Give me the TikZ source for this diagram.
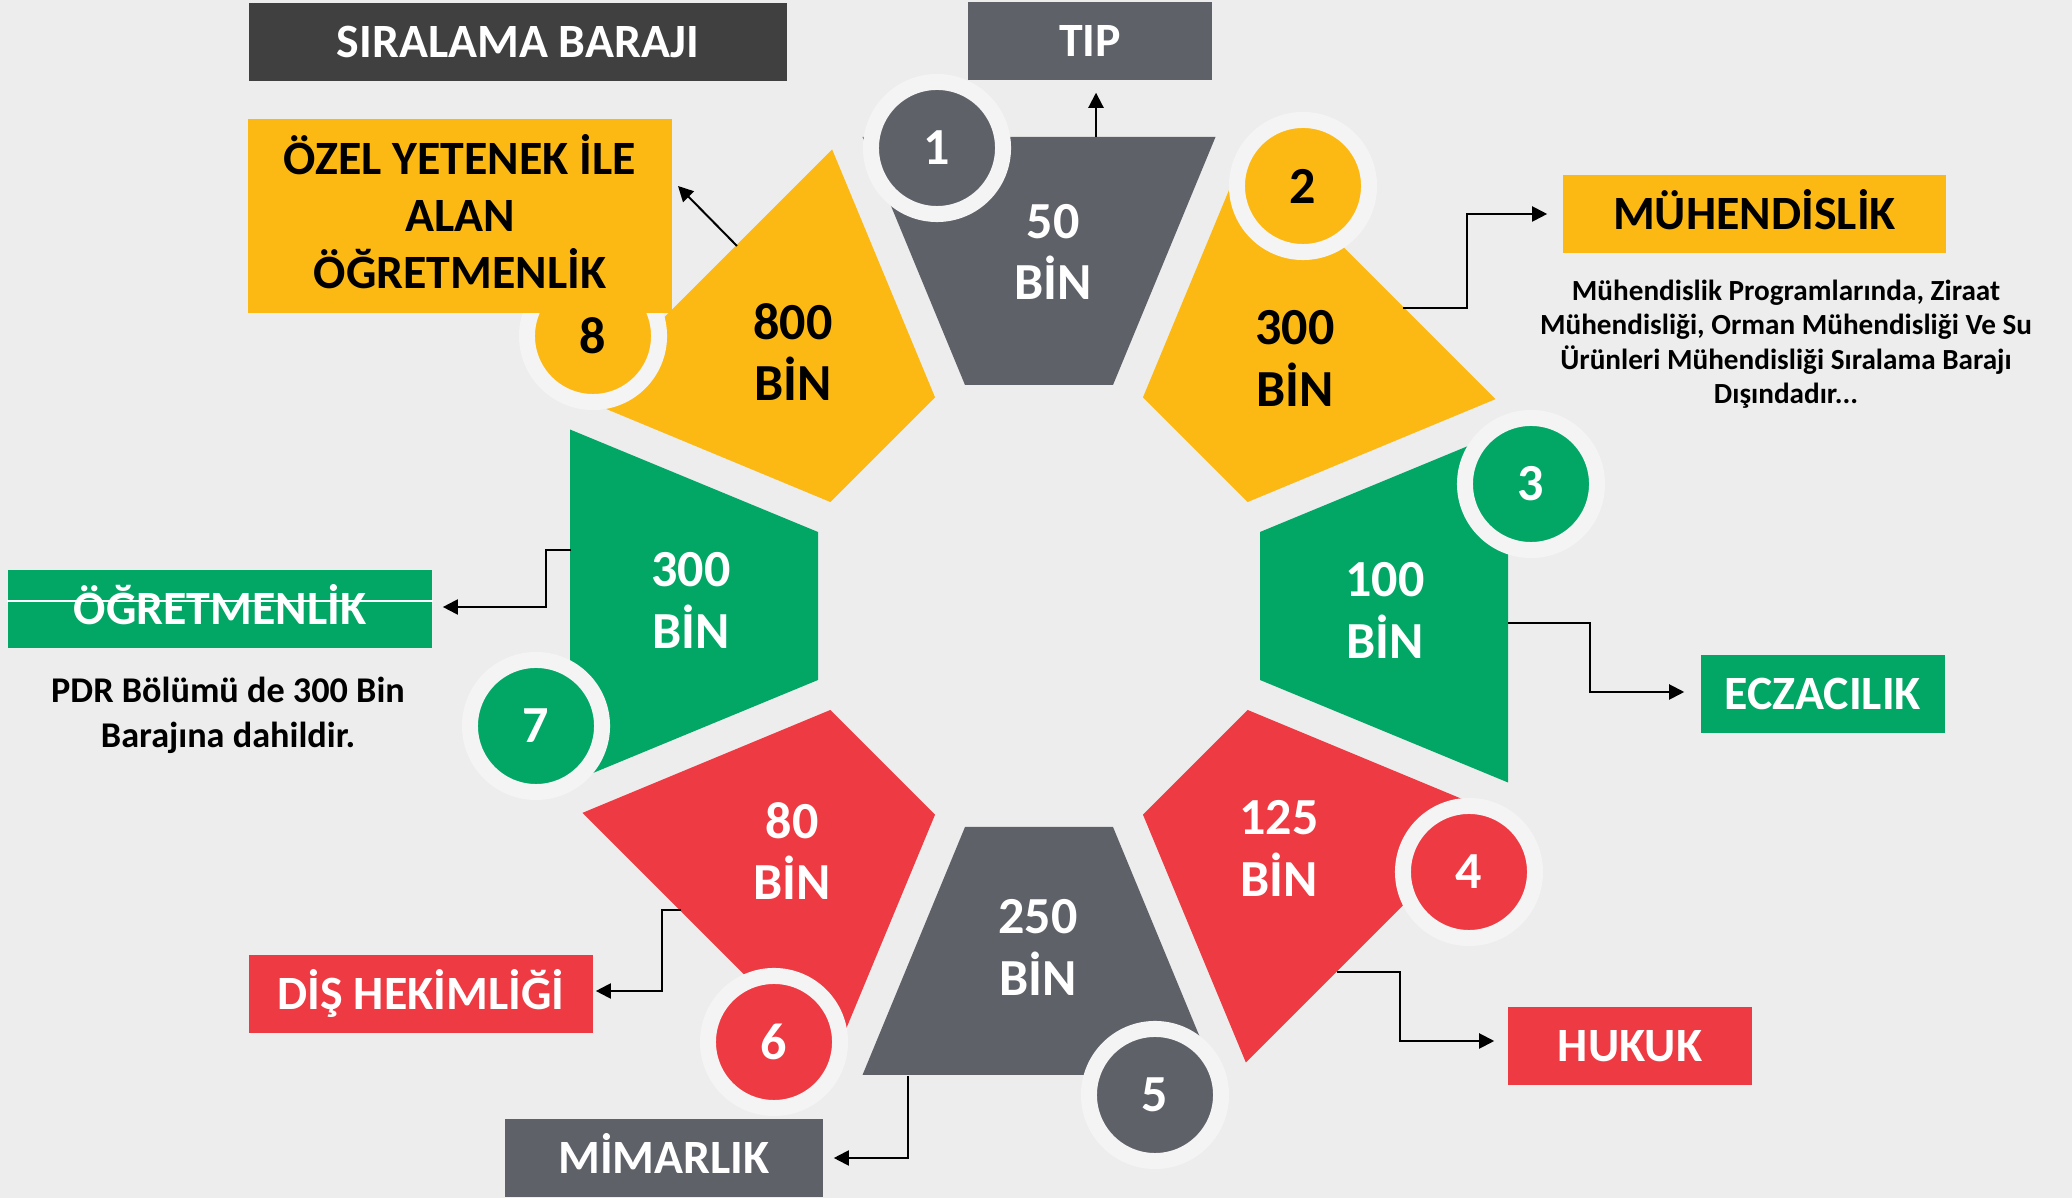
\documentclass[tikz,border=0pt]{standalone}
\usepackage{fontspec}
\setmainfont{Carlito}
\usetikzlibrary{arrows.meta}
\definecolor{bg}{HTML}{EDEDED}
\definecolor{ring}{HTML}{F4F4F4}
\definecolor{cgray}{HTML}{5F6168}
\definecolor{cyel}{HTML}{FDB913}
\definecolor{cgrn}{HTML}{02A766}
\definecolor{cred}{HTML}{EE3A42}
\definecolor{ctitle}{HTML}{404040}
\begin{document}
\begin{tikzpicture}[x=0.01cm,y=-0.01cm,
  shapetext/.style={font=\bfseries\fontsize{14.8}{17.6}\selectfont, align=center, text=#1, inner sep=0pt},
  numcirc/.style={circle, fill=#1, draw=ring, line width=0.16cm, minimum size=1.32cm, inner sep=0pt, font=\bfseries\fontsize{14.8}{17.6}\selectfont},
  labelbox/.style={fill=#1, inner sep=0pt, font=\bfseries\fontsize{13.6}{16.2}\selectfont, align=center},
  onebox/.style={labelbox=#1, minimum height=0.78cm, text height=8.7pt, text depth=0pt},
  arr/.style={-{Triangle[length=4.3pt,width=4.3pt]}, line width=0.57pt, black},
  note/.style 2 args={font=\bfseries\fontsize{#1}{#2}\selectfont, align=center, text=black}
]
\useasboundingbox (0,0) rectangle (2072,1198);
\fill[bg] (0,0) rectangle (2072,1198);

% wedges
\foreach \k/\col in {0/cgray,1/cyel,2/cgrn,3/cred,4/cgray,5/cred,6/cgrn,7/cyel}{
  \fill[\col, shift={(1039,606)}, rotate=-45*\k]
    (-74,-221) -- (74,-221) -- (176.5,-469) -- (-176.5,-469) -- cycle;
}

% values
\node[shapetext=white] (t1) at (1053,252) {50\\BİN};
\node[shapetext=black] (t2) at (1295,358) {300\\BİN};
\node[shapetext=white] (t3) at (1385,610) {100\\BİN};
\node[shapetext=white] (t4) at (1279,848) {125\\BİN};
\node[shapetext=white] (t5) at (1038,947) {250\\BİN};
\node[shapetext=white] (t6) at (792,851) {80\\BİN};
\node[shapetext=white] (t7) at (691,600) {300\\BİN};
\node[shapetext=black] (t8) at (793,352) {800\\BİN};

% number circles
\node[numcirc=cgray, text=white] (n1) at (937,148) {1};
\node[numcirc=cyel, text=black] (n2) at (1303,186) {2};
\node[numcirc=cgrn, text=white] (n3) at (1531,484) {3};
\node[numcirc=cred, text=white] (n4) at (1469,872) {4};
\node[numcirc=cgray, text=white] (n5) at (1155,1095) {5};
\node[numcirc=cred, text=white] (n6) at (774,1042) {6};
\node[numcirc=cgrn, text=white] (n7) at (536,726) {7};
\node[numcirc=cyel, text=black] (n8) at (593,336) {8};

% label boxes
\node[onebox=ctitle, text=white, minimum width=5.38cm] (title) at (518,42) {SIRALAMA BARAJI};
\node[onebox=cgray, text=white, minimum width=2.44cm] (tip) at (1090,41) {TIP};
\node[labelbox=cyel, minimum width=4.24cm, minimum height=1.94cm] (ozel) at (460,216) {};
\node[font=\bfseries\fontsize{13.6}{16.2}\selectfont, align=center, text=black, inner sep=0pt] (ozeltext) at (460,212) {ÖZEL YETENEK İLE\\ALAN\\ÖĞRETMENLİK};
\node[onebox=cyel, text=black, minimum width=3.83cm] (muh) at (1754.5,214) {MÜHENDİSLİK};
\node[onebox=cgrn, text=white, minimum width=4.24cm] (ogr) at (220,609) {ÖĞRETMENLİK};
\draw[white, line width=0.3pt] (ogr.west |- 0,601) -- (ogr.east |- 0,601);
\node[onebox=cgrn, text=white, minimum width=2.44cm] (ecz) at (1823,694) {ECZACILIK};
\node[onebox=cred, text=white, minimum width=2.44cm] (huk) at (1630,1046) {HUKUK};
\node[onebox=cred, text=white, minimum width=3.44cm] (dis) at (421,994) {DİŞ HEKİMLİĞİ};
\node[onebox=cgray, text=white, minimum width=3.18cm] (mim) at (664,1158) {MİMARLIK};

% notes
\node[note={8.3}{9.8}] (muhnote) at (1786,344) {Mühendislik Programlarında, Ziraat\\Mühendisliği, Orman Mühendisliği Ve Su\\Ürünleri Mühendisliği Sıralama Barajı\\Dışındadır...};
\node[note={10.3}{12.8}] (pdrnote) at (228,715) {PDR Bölümü de 300 Bin\\Barajına dahildir.};

% connectors
\coordinate (c1) at (1096,137);
\coordinate (c2) at (1403,308);
\coordinate (c3) at (1508,623);
\coordinate (c4) at (1337,972);
\coordinate (c5) at (908,1076);
\coordinate (c6) at (681,910);
\coordinate (c7) at (571,550);
\coordinate (c8) at (737,246);
\coordinate (c8e) at (678,186);
\draw[arr, shorten >=0.12cm] (c1) -- (c1 |- tip.south);
\draw[arr, shorten >=0.15cm] (c2) -- (1467,308) |- (muh.west);
\draw[arr, shorten >=0.16cm] (c3) -- (1590,623) |- ([yshift=0.02cm]ecz.west);
\draw[arr, shorten >=0.13cm] (c4) -- (1400,972) |- ([yshift=0.05cm]huk.west);
\draw[arr, shorten >=0.10cm] (c5) |- (mim.east);
\draw[arr, shorten >=0.02cm] (c6) -- (662,910) |- ([yshift=0.03cm]dis.east);
\draw[arr, shorten >=0.10cm] (c7) -- (546,550) |- ([yshift=0.02cm]ogr.east);
\draw[arr] (c8) -- (c8e);
\end{tikzpicture}
\end{document}
